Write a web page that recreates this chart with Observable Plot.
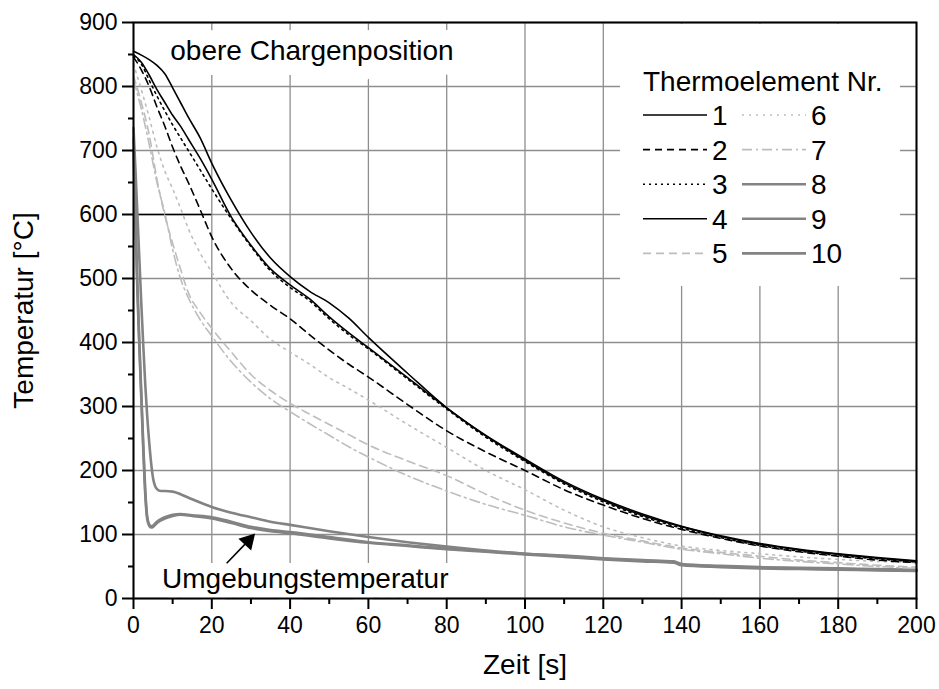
<!DOCTYPE html>
<html><head><meta charset="utf-8">
<script src="https://cdn.jsdelivr.net/npm/d3@7"></script>
<script src="https://cdn.jsdelivr.net/npm/@observablehq/plot@0.6"></script>
<style>
body{margin:0;background:#fff;}
#wrap{position:relative;width:939px;height:689px;font-family:"Liberation Sans",Arial,sans-serif;}
#legend{position:absolute;left:620px;top:24px;width:280px;height:262px;background:#fff;}
</style></head><body><div id="wrap"></div>
<script>
// ---- data ----
const tA = [0,2,4,6,8,10,12,14,17,20,25,30,35,40,45,50,55,60,70,80,90,100,110,120,130,140,150,160,170,180,190,200];
const s1 = [855,849,842,833,820,798,775,752,720,680,622,572,532,503,480,462,438,408,352,298,255,218,183,155,132,113,98,86,77,70,64,59];
const s2 = [846,826,800,768,738,705,676,650,608,565,515,482,458,437,412,388,366,346,303,262,229,200,170,146,125,108,94,82,73,66,60,56];
const s3 = [848,835,810,785,762,740,720,700,670,640,593,550,512,486,465,437,412,390,343,296,252,214,179,151,128,110,95,83,74,67,62,57];
const s4 = [850,838,818,795,775,755,738,718,688,655,596,552,515,490,468,440,415,392,345,298,254,216,181,153,130,112,97,85,76,69,63,58];
const s5 = [817,775,725,655,598,555,515,478,447,422,385,350,325,305,288,272,256,240,215,192,163,138,118,102,90,79,72,66,60,56,52,49];
const s6 = [835,795,752,705,668,640,610,578,540,510,462,434,405,385,366,345,328,310,272,236,200,170,138,112,95,82,75,70,65,61,58,56];
const s7 = [810,765,710,650,602,545,500,470,436,410,370,338,312,292,273,255,237,221,192,168,147,130,112,99,88,77,70,63,58,54,50,47];
const tB = [0,0.5,1,1.5,2,2.5,3,3.5,4,4.5,5,5.5,6,7,8,10,12,15,20,25,30,35,40,50,60,70,80,90,100,110,120,130,138,140,150,160,170,180,190,200];
const s8 = [735,670,600,530,460,395,335,285,245,212,188,176,171,168,168,167,163,155,143,134,127,120,115,105,96,88,81,75,70,67,63,60,58,54,51,49,48,47,46,45];
const s9 = [720,600,490,400,320,240,170,128,116,113,114,117,120,124,127,131,132,130,127,120,112,107,104,96,88,83,78,74,70,66,62,59,57,53,50,48,47,46,45,44];
const s10 = [700,585,478,392,312,232,163,124,114,111,112,115,118,122,125,129,131,129,125,118,110,105,102,94,87,82,77,73,69,65,61,58,56,52,49,47,46,45,44,43];

const seriesNames = ["1","2","3","4","5","6","7","8","9","10"];
const seriesTimes = [tA,tA,tA,tA,tA,tA,tA,tB,tB,tB];
const seriesValues = [s1,s2,s3,s4,s5,s6,s7,s8,s9,s10];

const xMajor = d3.range(0, 201, 20);
const xMinor = d3.range(10, 200, 20);
const yMajor = d3.range(0, 901, 100);
const yMinor = d3.range(50, 900, 100);

const refLine = [{t1: 0, t2: 20, T: 600}];
const noteTop = [{t: 9.4, T: 856, text: "obere Chargenposition"}];
const noteBottom = [{t: 7.3, T: 31, text: "Umgebungstemperatur"}];
const arrowData = [{t1: 23.8, T1: 55, t2: 29.3, T2: 90}];
const legendTitle = "Thermoelement Nr.";

// ---- styles ----
const BLACK = "#000", LIGHT = "#bdbdbd", GRAY = "#838383";
const styleOf = {
  "1": {stroke: BLACK, strokeWidth: 1.6, dash: null},
  "2": {stroke: BLACK, strokeWidth: 1.6, dash: "7,5"},
  "3": {stroke: BLACK, strokeWidth: 1.6, dash: "2,4"},
  "4": {stroke: BLACK, strokeWidth: 1.6, dash: null},
  "5": {stroke: LIGHT, strokeWidth: 1.6, dash: "8,5"},
  "6": {stroke: LIGHT, strokeWidth: 1.6, dash: "2,5"},
  "7": {stroke: LIGHT, strokeWidth: 1.6, dash: "10,4,2,4"},
  "8": {stroke: GRAY, strokeWidth: 2.6, dash: null},
  "9": {stroke: GRAY, strokeWidth: 2.6, dash: null},
  "10": {stroke: GRAY, strokeWidth: 2.6, dash: null}
};

const lineMarks = seriesNames.map((name, k) => {
  const rows = seriesTimes[k].map((t, i) => ({t, T: seriesValues[k][i]}));
  const st = styleOf[name];
  return Plot.line(rows, {x: "t", y: "T", stroke: st.stroke, strokeWidth: st.strokeWidth,
    strokeDasharray: st.dash, curve: "monotone-x"});
}).reverse();

const FONT = "'Liberation Sans', Arial, Helvetica, sans-serif";

const chart = Plot.plot({
  width: 939, height: 689,
  marginLeft: 133, marginRight: 23, marginTop: 22, marginBottom: 91,
  x: {domain: [0, 200]},
  y: {domain: [0, 900]},
  style: {fontFamily: FONT, fontSize: "23px", color: "#000", background: "#fff", overflow: "visible"},
  marks: [
    Plot.gridX(xMajor, {stroke: "#8e8e8e", strokeOpacity: 1, strokeWidth: 1.3}),
    Plot.gridY(yMajor, {stroke: "#8e8e8e", strokeOpacity: 1, strokeWidth: 1.3}),
    Plot.text(noteTop, {x: "t", y: "T", text: "text", textAnchor: "start", fontSize: 28,
      fill: "#000", stroke: "#fff", strokeWidth: 30, strokeLinejoin: "round"}),
    Plot.text(noteBottom, {x: "t", y: "T", text: "text", textAnchor: "start", fontSize: 28,
      fill: "#000", stroke: "#fff", strokeWidth: 20, strokeLinejoin: "round"}),
    Plot.ruleY(refLine, {y: "T", x1: "t1", x2: "t2", stroke: "#000", strokeWidth: 1.6}),
    ...lineMarks,
    Plot.link(arrowData, {x1: "t1", y1: "T1", x2: "t2", y2: "T2", stroke: "#000", strokeWidth: 1.6}),
    Plot.dot(arrowData, {x: "t2", y: "T2", symbol: "triangle", r: 6.5, fill: "#000", stroke: null, rotate: 43}),
    Plot.axisX(xMajor, {tickSize: 11, tickPadding: 7, strokeWidth: 2, label: null, fontSize: 23}),
    Plot.axisX(xMinor, {tickSize: 6, text: null, strokeWidth: 2, label: null}),
    Plot.axisY(yMajor, {tickSize: 11, tickPadding: 5, strokeWidth: 2, label: null, fontSize: 23}),
    Plot.axisY(yMinor, {tickSize: 5, text: null, strokeWidth: 2, label: null}),
    Plot.frame({stroke: "#000", strokeWidth: 2}),
    Plot.text(["Zeit [s]"], {frameAnchor: "bottom", dy: 67, fontSize: 28, lineAnchor: "middle", textAnchor: "middle", fill: "#000"}),
    Plot.text(["Temperatur [°C]"], {frameAnchor: "left", dx: -120, rotate: -90, lineAnchor: "top", textAnchor: "middle", fontSize: 28, fill: "#000"})
  ]
});

const wrap = document.getElementById("wrap");
wrap.appendChild(chart);

// ---- legend ----
const leg = document.createElement("div");
leg.id = "legend";
wrap.appendChild(leg);
const lsvg = d3.select(leg).append("svg").attr("width", 280).attr("height", 262)
  .style("font-family", FONT);
lsvg.append("text").attr("x", 23).attr("y", 67).attr("font-size", 28).attr("fill", "#000").text(legendTitle);
seriesNames.forEach((name, k) => {
  const col = Math.floor(k / 5), row = k % 5;
  const x0 = 23 + col * 99, yb = 101 + row * 34.6;
  const st = styleOf[name];
  lsvg.append("line").attr("x1", x0).attr("x2", x0 + 64).attr("y1", yb - 10).attr("y2", yb - 10)
    .attr("stroke", st.stroke).attr("stroke-width", st.strokeWidth)
    .attr("stroke-dasharray", st.dash);
  lsvg.append("text").attr("x", x0 + 69).attr("y", yb).attr("font-size", 28).attr("fill", "#000").text(name);
});
</script></body></html>
